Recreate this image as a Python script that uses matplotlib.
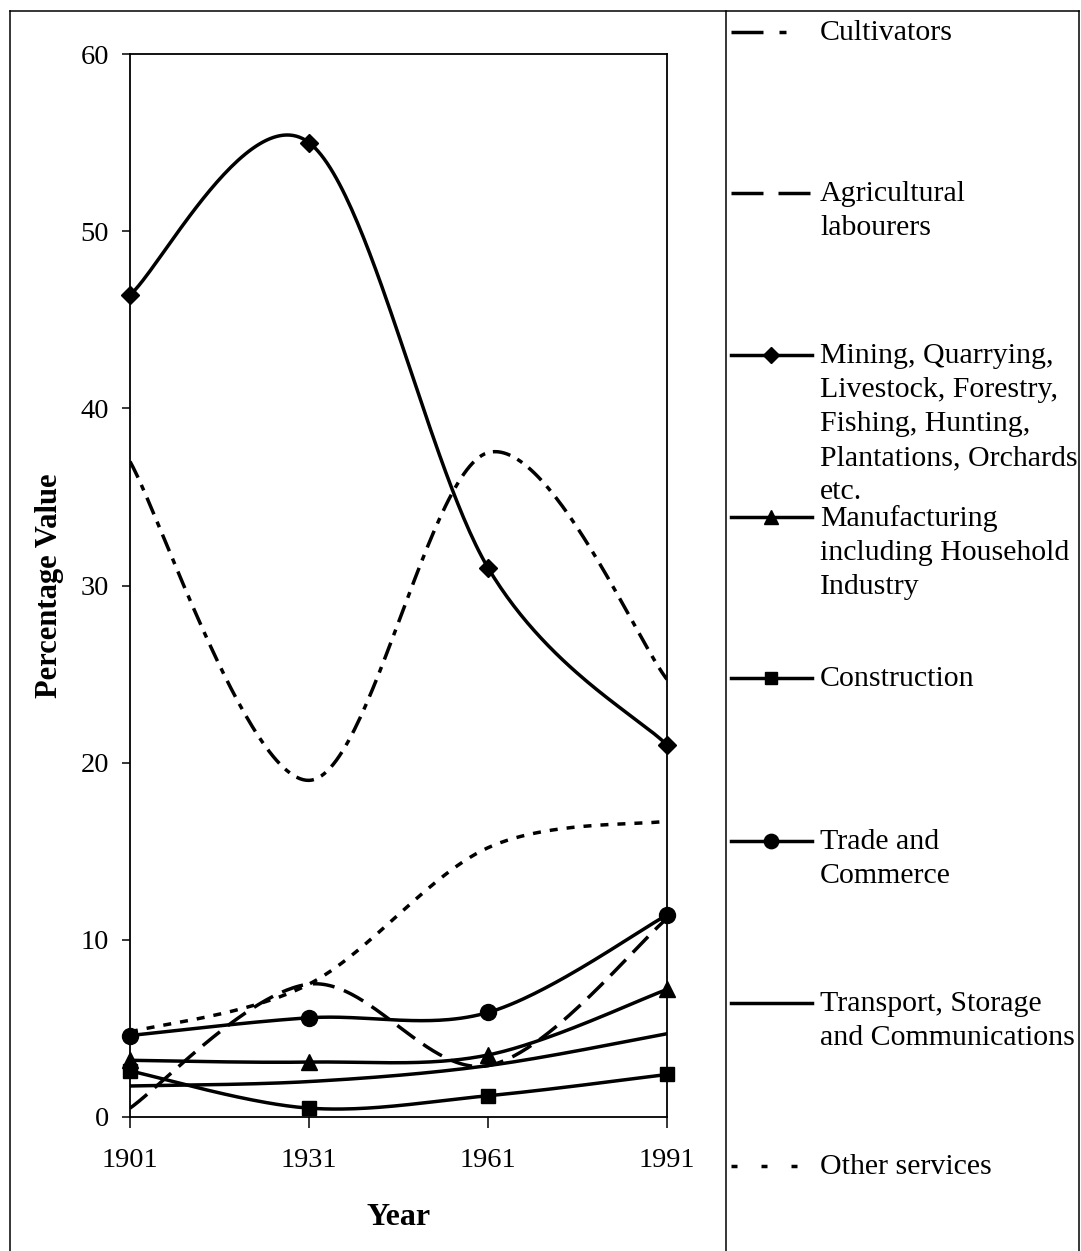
import numpy as np
import matplotlib
matplotlib.use("Agg")
import matplotlib.pyplot as plt

plt.rcParams['font.family'] = ['Liberation Serif', 'DejaVu Serif']
plt.rcParams['lines.scale_dashes'] = False

# Datos
years = [1901, 1931, 1961, 1991]
cultivators = [37.0, 19.0, 37.5, 24.7]
agri_labourers = [0.5, 7.5, 2.9, 11.2]
mining = [46.4, 55.0, 31.0, 21.0]
manufacturing = [3.2, 3.1, 3.5, 7.2]
construction = [2.6, 0.5, 1.2, 2.4]
trade = [4.6, 5.6, 5.9, 11.4]
transport = [1.75, 2.0, 2.9, 4.7]
other_services = [4.8, 7.5, 15.2, 16.7]

labels = ["Cultivators", "Agricultural\nlabourers",
          "Mining, Quarrying,\nLivestock, Forestry,\nFishing, Hunting,\nPlantations, Orchards\netc.",
          "Manufacturing\nincluding Household\nIndustry",
          "Construction", "Trade and\nCommerce",
          "Transport, Storage\nand Communications", "Other services"]

px = 0.72  # pixel -> point at dpi 100
styles = [
    dict(ls=(0, (18 * px, 8 * px, 6 * px, 8 * px)), marker=None),
    dict(ls=(0, (22 * px, 10 * px)), marker=None),
    dict(ls='-', marker='D', ms=9),
    dict(ls='-', marker='^', ms=11),
    dict(ls='-', marker='s', ms=10),
    dict(ls='-', marker='o', ms=11.5),
    dict(ls='-', marker=None),
    dict(ls=(0, (8 * px, 9 * px)), marker=None),
]
legend_ls = [
    (0, (32 * px, 16 * px, 7 * px, 40 * px)),
    (0, (32 * px, 15 * px)),
    '-', '-', '-', '-', '-',
    (0, (6 * px, 24 * px)),
]
series = [cultivators, agri_labourers, mining, manufacturing, construction,
          trade, transport, other_services]


def smooth(x, y, n=60):
    # curva suavizada tipo Excel (Bezier / Catmull-Rom)
    pts = np.column_stack([x, y]).astype(float)
    out = []
    for i in range(len(pts) - 1):
        p0 = pts[max(i - 1, 0)]
        p1 = pts[i]
        p2 = pts[i + 1]
        p3 = pts[min(i + 2, len(pts) - 1)]
        c1 = p1 + (p2 - p0) / 6
        c2 = p2 - (p3 - p1) / 6
        t = np.linspace(0, 1, n)[:, None]
        seg = ((1 - t) ** 3) * p1 + 3 * ((1 - t) ** 2) * t * c1 + 3 * (1 - t) * t ** 2 * c2 + t ** 3 * p2
        out.append(seg if i == 0 else seg[1:])
    out = np.vstack(out)
    return out[:, 0], out[:, 1]


W, H = 1081, 1251
fig = plt.figure(figsize=(W / 100, H / 100), dpi=100)
ax = fig.add_axes([130 / W, 1 - 1117 / H, (667 - 130) / W, (1117 - 54) / H])

lw = 2.5
for vals, st in zip(series, styles):
    sx, sy = smooth(years, vals)
    ax.plot(sx, sy, color='black', lw=lw, linestyle=st['ls'])
    if st['marker']:
        ax.plot(years, vals, linestyle='none', marker=st['marker'],
                ms=st['ms'], color='black', clip_on=False)

ax.set_xlim(1901, 1991)
ax.set_ylim(0, 60)
ax.set_xticks(years)
ax.set_yticks(range(0, 61, 10))
ax.tick_params(axis='both', direction='out', labelsize=20.5, width=1.1)
ax.tick_params(axis='y', length=6, pad=9)
ax.tick_params(axis='x', length=8, pad=14)
for s in ax.spines.values():
    s.set_linewidth(1.3)
ax.set_xlabel('Year', fontsize=23, fontweight='bold', labelpad=22)
ax.set_ylabel('Percentage Value', fontsize=22, fontweight='bold', labelpad=12)

# Marco exterior y leyenda
leg = fig.add_axes([0, 0, 1, 1], zorder=-1)
leg.set_xlim(0, W)
leg.set_ylim(H, 0)
leg.axis('off')
leg.plot([10, 10], [11, H], color='black', lw=1.1)
leg.plot([10, 1079], [11, 11], color='black', lw=1.1)
leg.plot([1079, 1079], [11, H], color='black', lw=1.1)
leg.plot([726, 726], [11, H], color='black', lw=1.1)

leg_y = [32, 193, 355, 517, 678, 841, 1003, 1166]
for lab, y, st, lls in zip(labels, leg_y, styles, legend_ls):
    leg.plot([731, 812], [y, y], color='black', lw=lw, linestyle=lls)
    if st['marker']:
        leg.plot([771], [y], marker=st['marker'], ms=st['ms'] * 0.9,
                 color='black', linestyle='none')
    leg.text(820, y - 12, lab, fontsize=21.5, va='top', ha='left',
             linespacing=1.4)

fig.savefig('out.png', dpi=100)
